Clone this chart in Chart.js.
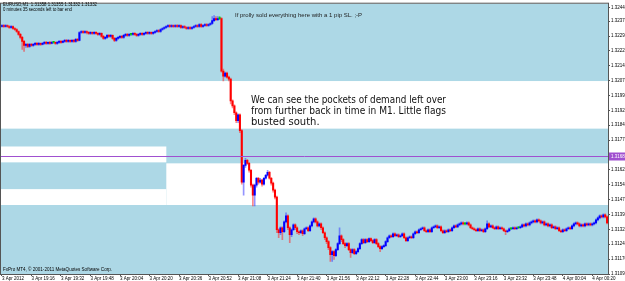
<!DOCTYPE html>
<html>
<head>
<meta charset="utf-8">
<script src="https://cdn.jsdelivr.net/npm/chart.js@4.4.1/dist/chart.umd.min.js"></script>
<style>
  html, body { margin: 0; padding: 0; background: #fff; }
  canvas { display: block; }
</style>
</head>
<body>
<canvas id="chart" width="625" height="281"></canvas>
<script>
// EURUSD M1, 3 Apr 2012 19:00 -> 4 Apr 00:28, one bar per minute
const symbol = 'EURUSD,M1';
const quote = [1.31358, 1.31355, 1.31332, 1.31332];
const firstOpen = 1.32343;

const closes = [
  1.32348,1.32343,1.32348,1.32343,1.32338,1.32343,1.32333,1.32328,1.32318,1.32303,
  1.32288,1.32268,1.32248,1.32253,1.32243,1.32253,1.32248,1.32253,1.32258,1.32253,
  1.32258,1.32253,1.32258,1.32263,1.32258,1.32263,1.32258,1.32263,1.32263,1.32258,
  1.32263,1.32268,1.32263,1.32268,1.32273,1.32268,1.32273,1.32268,1.32273,1.32268,
  1.32278,1.32273,1.32313,1.32318,1.32313,1.32318,1.32313,1.32308,1.32313,1.32308,
  1.32313,1.32308,1.32303,1.32308,1.32293,1.32283,1.32288,1.32298,1.32293,1.32298,
  1.32283,1.32273,1.32283,1.32288,1.32293,1.32288,1.32298,1.32303,1.32298,1.32303,
  1.32303,1.32308,1.32303,1.32298,1.32303,1.32308,1.32303,1.32308,1.32313,1.32308,
  1.32313,1.32308,1.32313,1.32318,1.32323,1.32318,1.32328,1.32333,1.32338,1.32343,
  1.32348,1.32343,1.32348,1.32343,1.32348,1.32343,1.32348,1.32338,1.32343,1.32338,
  1.32333,1.32338,1.32333,1.32338,1.32343,1.32348,1.32343,1.32353,1.32343,1.32348,
  1.32353,1.32348,1.32353,1.32358,1.32373,1.32383,1.32378,1.32383,1.32383,1.32118,
  1.32093,1.32108,1.32088,1.32078,1.31968,1.31943,1.31908,1.31868,1.31898,1.31818,
  1.31558,1.31643,1.31668,1.31653,1.31618,1.31543,1.31493,1.31543,1.31578,1.31558,
  1.31568,1.31548,1.31578,1.31593,1.31608,1.31578,1.31553,1.31518,1.31483,1.31318,
  1.31303,1.31328,1.31308,1.31358,1.31388,1.31328,1.31293,1.31318,1.31343,1.31328,
  1.31308,1.31303,1.31313,1.31298,1.31323,1.31328,1.31313,1.31338,1.31358,1.31373,
  1.31358,1.31338,1.31348,1.31328,1.31303,1.31278,1.31258,1.31228,1.31193,1.31208,
  1.31188,1.31218,1.31248,1.31288,1.31268,1.31248,1.31238,1.31248,1.31218,1.31203,
  1.31218,1.31198,1.31208,1.31223,1.31248,1.31268,1.31253,1.31268,1.31258,1.31273,
  1.31263,1.31253,1.31268,1.31248,1.31233,1.31223,1.31233,1.31238,1.31258,1.31278,
  1.31288,1.31283,1.31298,1.31288,1.31293,1.31283,1.31288,1.31298,1.31278,1.31263,
  1.31278,1.31283,1.31278,1.31298,1.31308,1.31303,1.31318,1.31323,1.31328,1.31313,
  1.31308,1.31318,1.31308,1.31328,1.31333,1.31338,1.31328,1.31333,1.31313,1.31303,
  1.31313,1.31308,1.31318,1.31313,1.31328,1.31338,1.31333,1.31343,1.31348,1.31353,
  1.31348,1.31348,1.31353,1.31343,1.31328,1.31323,1.31318,1.31313,1.31323,1.31313,
  1.31318,1.31308,1.31323,1.31348,1.31333,1.31338,1.31328,1.31323,1.31333,1.31323,
  1.31328,1.31323,1.31313,1.31308,1.31313,1.31323,1.31323,1.31328,1.31323,1.31328,
  1.31328,1.31333,1.31343,1.31338,1.31348,1.31343,1.31353,1.31358,1.31363,1.31358,
  1.31368,1.31363,1.31353,1.31358,1.31343,1.31348,1.31338,1.31343,1.31328,1.31333,
  1.31323,1.31328,1.31313,1.31308,1.31318,1.31313,1.31323,1.31328,1.31323,1.31338,
  1.31348,1.31353,1.31348,1.31338,1.31343,1.31338,1.31348,1.31343,1.31348,1.31343,
  1.31348,1.31353,1.31368,1.31378,1.31388,1.31383,1.31393,1.31383,1.31353
];

const highs = [
  1.32353,1.32353,1.32353,1.32351,1.32348,1.32348,1.32346,1.32338,1.32333,1.32321,
  1.32308,1.32293,1.32273,1.32258,1.32258,1.32258,1.32258,1.32258,1.32263,1.32263,
  1.32263,1.32261,1.32263,1.32268,1.32268,1.32266,1.32268,1.32268,1.32268,1.32266,
  1.32268,1.32273,1.32273,1.32273,1.32278,1.32278,1.32278,1.32276,1.32278,1.32278,
  1.32283,1.32283,1.32318,1.32323,1.32323,1.32323,1.32321,1.32318,1.32318,1.32316,
  1.32318,1.32318,1.32313,1.32313,1.32311,1.32298,1.32293,1.32303,1.32303,1.32303,
  1.32301,1.32288,1.32288,1.32293,1.32298,1.32298,1.32303,1.32308,1.32308,1.32308,
  1.32308,1.32313,1.32313,1.32308,1.32308,1.32313,1.32313,1.32313,1.32318,1.32318,
  1.32318,1.32316,1.32318,1.32323,1.32328,1.32328,1.32333,1.32338,1.32343,1.32348,
  1.32353,1.32353,1.32353,1.32351,1.32353,1.32353,1.32353,1.32351,1.32348,1.32348,
  1.32343,1.32343,1.32343,1.32343,1.32348,1.32353,1.32353,1.32358,1.32358,1.32353,
  1.32358,1.32358,1.32358,1.32363,1.32393,1.32398,1.32393,1.32393,1.32393,1.32388,
  1.32128,1.32113,1.32113,1.32093,1.32083,1.31973,1.31948,1.31913,1.31903,1.31903,
  1.31823,1.31648,1.31678,1.31673,1.31658,1.31623,1.31548,1.31548,1.31583,1.31583,
  1.31578,1.31573,1.31583,1.31598,1.31618,1.31613,1.31583,1.31558,1.31523,1.31488,
  1.31323,1.31333,1.31333,1.31363,1.31403,1.31393,1.31333,1.31323,1.31348,1.31348,
  1.31333,1.31313,1.31318,1.31318,1.31328,1.31333,1.31333,1.31343,1.31363,1.31378,
  1.31378,1.31363,1.31353,1.31353,1.31333,1.31308,1.31283,1.31263,1.31233,1.31213,
  1.31213,1.31223,1.31253,1.31328,1.31293,1.31273,1.31253,1.31253,1.31253,1.31223,
  1.31223,1.31223,1.31213,1.31228,1.31253,1.31273,1.31273,1.31273,1.31273,1.31278,
  1.31278,1.31268,1.31273,1.31273,1.31253,1.31238,1.31238,1.31243,1.31263,1.31283,
  1.31293,1.31293,1.31303,1.31303,1.31298,1.31298,1.31293,1.31303,1.31303,1.31283,
  1.31283,1.31288,1.31288,1.31303,1.31313,1.31313,1.31323,1.31328,1.31333,1.31333,
  1.31318,1.31323,1.31323,1.31333,1.31338,1.31343,1.31343,1.31338,1.31338,1.31318,
  1.31318,1.31318,1.31323,1.31323,1.31333,1.31343,1.31343,1.31348,1.31353,1.31358,
  1.31358,1.31353,1.31358,1.31358,1.31348,1.31333,1.31328,1.31323,1.31328,1.31328,
  1.31323,1.31323,1.31328,1.31363,1.31353,1.31343,1.31343,1.31333,1.31338,1.31338,
  1.31333,1.31333,1.31328,1.31318,1.31318,1.31328,1.31328,1.31333,1.31333,1.31333,
  1.31333,1.31338,1.31348,1.31348,1.31353,1.31353,1.31358,1.31363,1.31368,1.31368,
  1.31373,1.31373,1.31368,1.31363,1.31363,1.31353,1.31353,1.31348,1.31348,1.31338,
  1.31338,1.31333,1.31333,1.31318,1.31323,1.31323,1.31328,1.31333,1.31333,1.31343,
  1.31353,1.31358,1.31358,1.31353,1.31348,1.31348,1.31353,1.31353,1.31353,1.31353,
  1.31353,1.31358,1.31373,1.31383,1.31393,1.31393,1.31398,1.31398,1.31388
];

const lows = [
  1.32340,1.32338,1.32340,1.32338,1.32333,1.32333,1.32328,1.32323,1.32313,1.32298,
  1.32280,1.32228,1.32218,1.32238,1.32236,1.32238,1.32243,1.32243,1.32248,1.32248,
  1.32248,1.32248,1.32250,1.32253,1.32253,1.32253,1.32253,1.32255,1.32258,1.32253,
  1.32253,1.32258,1.32258,1.32260,1.32263,1.32263,1.32263,1.32263,1.32263,1.32263,
  1.32263,1.32268,1.32270,1.32308,1.32308,1.32308,1.32306,1.32303,1.32303,1.32303,
  1.32303,1.32303,1.32298,1.32298,1.32288,1.32278,1.32278,1.32283,1.32288,1.32288,
  1.32278,1.32266,1.32268,1.32278,1.32283,1.32283,1.32283,1.32293,1.32293,1.32293,
  1.32298,1.32298,1.32298,1.32293,1.32293,1.32298,1.32298,1.32298,1.32303,1.32303,
  1.32303,1.32303,1.32303,1.32308,1.32313,1.32313,1.32313,1.32323,1.32328,1.32333,
  1.32338,1.32338,1.32338,1.32338,1.32338,1.32338,1.32338,1.32333,1.32333,1.32333,
  1.32328,1.32328,1.32328,1.32328,1.32333,1.32338,1.32338,1.32338,1.32338,1.32338,
  1.32343,1.32343,1.32343,1.32348,1.32353,1.32368,1.32373,1.32373,1.32378,1.32113,
  1.32068,1.32088,1.32083,1.32068,1.31953,1.31933,1.31898,1.31858,1.31858,1.31808,
  1.31548,1.31493,1.31633,1.31648,1.31608,1.31533,1.31438,1.31438,1.31533,1.31548,
  1.31553,1.31538,1.31543,1.31573,1.31588,1.31573,1.31543,1.31508,1.31473,1.31303,
  1.31278,1.31293,1.31268,1.31303,1.31353,1.31318,1.31253,1.31283,1.31313,1.31318,
  1.31298,1.31293,1.31298,1.31288,1.31293,1.31318,1.31308,1.31308,1.31333,1.31353,
  1.31353,1.31333,1.31333,1.31318,1.31298,1.31268,1.31248,1.31218,1.31158,1.31158,
  1.31168,1.31183,1.31213,1.31243,1.31258,1.31243,1.31228,1.31233,1.31213,1.31178,
  1.31198,1.31193,1.31193,1.31203,1.31218,1.31243,1.31248,1.31248,1.31253,1.31253,
  1.31258,1.31248,1.31248,1.31243,1.31228,1.31208,1.31218,1.31228,1.31233,1.31253,
  1.31273,1.31278,1.31278,1.31283,1.31283,1.31278,1.31278,1.31283,1.31273,1.31258,
  1.31258,1.31273,1.31273,1.31273,1.31293,1.31298,1.31298,1.31313,1.31318,1.31308,
  1.31303,1.31303,1.31303,1.31303,1.31323,1.31328,1.31323,1.31323,1.31308,1.31298,
  1.31298,1.31303,1.31303,1.31308,1.31308,1.31323,1.31328,1.31328,1.31338,1.31343,
  1.31343,1.31343,1.31343,1.31338,1.31323,1.31318,1.31313,1.31308,1.31308,1.31308,
  1.31308,1.31303,1.31303,1.31318,1.31328,1.31328,1.31323,1.31318,1.31318,1.31318,
  1.31318,1.31318,1.31308,1.31293,1.31303,1.31308,1.31318,1.31318,1.31318,1.31318,
  1.31323,1.31323,1.31328,1.31333,1.31333,1.31338,1.31338,1.31348,1.31353,1.31353,
  1.31353,1.31358,1.31348,1.31348,1.31338,1.31338,1.31333,1.31333,1.31323,1.31323,
  1.31318,1.31318,1.31308,1.31303,1.31303,1.31308,1.31308,1.31318,1.31318,1.31318,
  1.31333,1.31343,1.31343,1.31333,1.31333,1.31333,1.31333,1.31338,1.31338,1.31338,
  1.31338,1.31343,1.31348,1.31363,1.31373,1.31378,1.31378,1.31378,1.31348
];

const tickLabels = [
  '3 Apr 2012', '3 Apr 19:16', '3 Apr 19:32', '3 Apr 19:48', '3 Apr 20:04',
  '3 Apr 20:20', '3 Apr 20:36', '3 Apr 20:52', '3 Apr 21:08', '3 Apr 21:24',
  '3 Apr 21:40', '3 Apr 21:56', '3 Apr 22:12', '3 Apr 22:28', '3 Apr 22:44',
  '3 Apr 23:00', '3 Apr 23:16', '3 Apr 23:32', '3 Apr 23:48', '4 Apr 00:04',
  '4 Apr 00:20'
];
const tickStep = 16;

const priceTicks = [
  1.32440, 1.32370, 1.32295, 1.32220, 1.32145, 1.32070, 1.31995, 1.31920, 1.31845,
  1.31770, 1.31620, 1.31545, 1.31470, 1.31395, 1.31320, 1.31245, 1.31170, 1.31095
];
const bidLine = 1.31688;

// demand zones left white on the blue background (null = chart edge)
const zoneHigh = [1.32068, 1.31653, 1.31738, 1.31523];
const zoneLow  = [1.31828, 1.31443, 1.31658, 1.31443];
const zoneFrom = [null, 89.1, null, null];
const zoneTo   = [null, null, 89.1, 89.1];

const notes = [
  'We can see the pockets of demand left over',
  'from further back in time in M1. Little flags',
  'busted south.'
];

const opens = closes.map((c, i) => i ? closes[i - 1] : firstOpen);
const bars = closes.map((c, i) => i);
const colorOf = i => closes[i] > opens[i] ? '#0000ff' : closes[i] < opens[i] ? '#ff0000' : '#00c800';
const wickOf = i => closes[i] > opens[i] ? 'rgba(60,60,255,0.55)' : closes[i] < opens[i] ? 'rgba(255,40,40,0.55)' : 'rgba(0,200,0,0.6)';

const backdrop = {
  id: 'backdrop',
  beforeDraw(chart) {
    const { ctx, chartArea: a, scales: { x, y } } = chart;
    ctx.save();
    ctx.fillStyle = '#ffffff';
    ctx.fillRect(0, 0, chart.width, chart.height);
    ctx.fillStyle = '#add8e6';
    ctx.fillRect(a.left, a.top, a.right - a.left, a.bottom - a.top);
    ctx.fillStyle = '#ffffff';
    zoneHigh.forEach((h, i) => {
      const x0 = zoneFrom[i] === null ? a.left : x.getPixelForValue(zoneFrom[i]);
      const x1 = zoneTo[i] === null ? a.right : x.getPixelForValue(zoneTo[i]);
      const y0 = y.getPixelForValue(h);
      const y1 = y.getPixelForValue(zoneLow[i]);
      ctx.fillRect(x0, y0, x1 - x0, y1 - y0);
    });
    ctx.restore();
  },
  afterDraw(chart) {
    const { ctx, chartArea: a, scales: { y } } = chart;
    ctx.save();
    // bid line and its price box
    const by = Math.round(y.getPixelForValue(bidLine)) + 0.5;
    ctx.strokeStyle = '#a050d0';
    ctx.lineWidth = 1;
    ctx.beginPath();
    ctx.moveTo(a.left, by);
    ctx.lineTo(a.right, by);
    ctx.stroke();
    ctx.fillStyle = '#a050d0';
    ctx.fillRect(a.right + 1, by - 4, 18, 8);
    ctx.fillStyle = '#ffffff';
    ctx.font = '4.5px "Liberation Sans"';
    ctx.textBaseline = 'middle';
    ctx.fillText(bidLine.toFixed(5), a.right + 3, by);

    // frame
    ctx.strokeStyle = '#555555';
    ctx.strokeRect(a.left - 0.5, a.top - 0.5, a.right - a.left + 1, a.bottom - a.top + 1);

    // texts
    ctx.fillStyle = '#000000';
    ctx.textBaseline = 'middle';
    ctx.font = '5.5px "Liberation Sans"';
    ctx.fillText(symbol + '  ' + quote.map(q => q.toFixed(5)).join(' '), 3, 4.5, 94);
    ctx.fillText('0 minutes 35 seconds left to bar end', 3, 9.5, 69);
    ctx.fillStyle = '#222222';
    ctx.font = '6px "Liberation Sans"';
    ctx.fillText('If prolly sold everything here with a 1 pip SL. ;-P', 235, 15.5, 130);
    ctx.fillStyle = '#000000';
    ctx.font = '5.5px "Liberation Sans"';
    ctx.fillText('FxPro MT4, \u00a9 2001-2011 MetaQuotes Software Corp.', 3, 269, 109);

    ctx.fillStyle = '#111111';
    ctx.font = '10px "DejaVu Sans"';
    notes.forEach((t, i) => ctx.fillText(t, 251, 100 + i * 11.2, i === 2 ? 70 : 195));
    ctx.restore();
  }
};

new Chart(document.getElementById('chart'), {
  type: 'bar',
  data: {
    labels: bars,
    datasets: [
      {
        label: 'body',
        data: closes.map((c, i) => [opens[i], c]),
        backgroundColor: bars.map(colorOf),
        barThickness: 1.4,
        minBarLength: 1,
        grouped: false
      },
      {
        label: 'wick',
        data: lows.map((l, i) => [l, highs[i]]),
        backgroundColor: bars.map(wickOf),
        barThickness: 1,
        grouped: false
      }
    ]
  },
  options: {
    responsive: false,
    animation: false,
    devicePixelRatio: 1,
    layout: { padding: { left: 1, top: 1, right: 0, bottom: 0 } },
    plugins: { legend: { display: false }, tooltip: { enabled: false } },
    scales: {
      x: {
        grid: { drawOnChartArea: false, offset: false, tickLength: 2, color: '#555555' },
        border: { color: '#555555' },
        afterBuildTicks: s => { s.ticks = s.ticks.filter(t => t.value % tickStep === 0); },
        afterFit: s => { s.height = 7; },
        ticks: {
          autoSkip: false,
          maxRotation: 0,
          align: 'start',
          padding: 0,
          color: '#000000',
          font: { family: 'Liberation Sans', size: 4.5 },
          callback: v => tickLabels[v / tickStep]
        }
      },
      y: {
        position: 'right',
        min: 1.31095,
        max: 1.32458,
        grid: { drawOnChartArea: false, tickLength: 2, color: '#555555' },
        border: { color: '#555555' },
        afterBuildTicks: s => { s.ticks = priceTicks.map(v => ({ value: v })); },
        afterFit: s => { s.width = 17; },
        ticks: {
          padding: 1,
          color: '#000000',
          font: { family: 'Liberation Sans', size: 4.5 },
          callback: v => v.toFixed(5)
        }
      }
    }
  },
  plugins: [backdrop]
});
</script>
</body>
</html>
